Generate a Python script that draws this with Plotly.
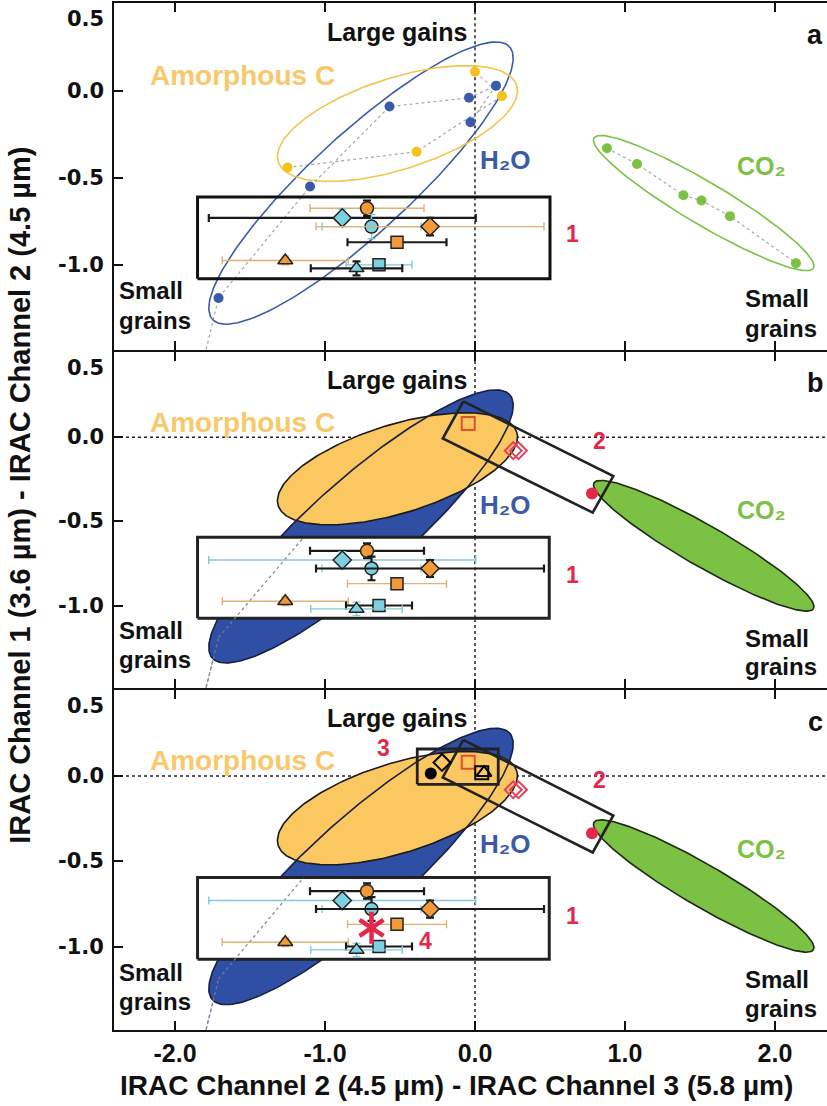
import numpy as np
import plotly.graph_objects as go

# ---------------- data ----------------
X_TICKS = [-2.0, -1.0, 0.0, 1.0, 2.0]
X_TICK_LABELS = ["-2.0", "-1.0", "0.0", "1.0", "2.0"]
Y_TICKS = [0.5, 0.0, -0.5, -1.0, -1.5]
Y_TICK_LABELS = ["0.5", "0.0", "-0.5", "-1.0", "-1.5"]
PANEL_NAMES = ["a", "b", "c"]

# model grain tracks (panel a)
H2O_X = [-1.83, -1.71, -1.10, -0.57, -0.04, 0.14, -0.03]
H2O_Y = [-1.62, -1.19, -0.55, -0.09, -0.04, 0.03, -0.18]
AMC_X = [-1.25, -0.39, 0.18, 0.00]
AMC_Y = [-0.44, -0.35, -0.03, 0.11]
CO2_X = [0.88, 1.08, 1.39, 1.51, 1.70, 2.14]
CO2_Y = [-0.33, -0.42, -0.60, -0.63, -0.72, -0.99]

# observed objects (box 1)
OBJ_SYMBOL = ["circle", "diamond", "circle", "diamond", "square",
              "triangle-up", "square", "triangle-up"]
OBJ_KIND = ["o", "c", "c", "o", "o", "o", "c", "c"]
OBJ_X = [-0.72, -0.885, -0.69, -0.30, -0.52, -1.265, -0.64, -0.79]
OBJ_Y = [-0.675, -0.73, -0.78, -0.78, -0.87, -0.975, -1.00, -1.02]
OBJ_XERR = [0.38, 0.89, 0.33, 0.76, 0.33, 0.42, 0.22, 0.305]
OBJ_YERR = [0.045, 0.05, 0.07, 0.05, 0.03, 0.025, 0.03, 0.04]
XERR_STYLE = {"a": ["t", "k", "c", "t", "k", "t", "c", "k"],
              "b": ["k", "c", "c", "k", "t", "t", "k", "c"],
              "c": ["k", "c", "c", "k", "t", "t", "k", "c"]}
YERR_STYLE = {"a": ["k", "c", "c", "k", "k", "t", "c", "k"],
              "b": ["k", "c", "k", "k", "k", "t", "k", "c"],
              "c": ["k", "c", "k", "k", "k", "t", "k", "c"]}

# boxes
BOX1 = {"a": (-1.85, 0.50, -1.08, -0.61),
        "b": (-1.85, 0.495, -1.075, -0.595),
        "c": (-1.85, 0.495, -1.075, -0.595)}
BOX2_X = [-0.078, 0.922, 0.785, -0.215]
BOX2_Y = [0.213, -0.231, -0.448, -0.008]
BOX3 = (-0.385, 0.155, -0.048, 0.159)

# red / black special points
RED_SQ_X, RED_SQ_Y = [-0.045], [0.082]
RED_DIA_X, RED_DIA_Y = [0.255, 0.29], [-0.08, -0.08]
RED_DOT_X, RED_DOT_Y = [0.78], [-0.335]
BLK_CIRC_X, BLK_CIRC_Y = [-0.295], [0.015]
BLK_DIA_X, BLK_DIA_Y = [-0.22], [0.08]
BLK_SQ_X, BLK_SQ_Y = [0.045], [0.02]
BLK_TRI_X, BLK_TRI_Y = [0.06], [0.02]
AST_X, AST_Y = [-0.69], [-0.89]

# regions (center x, center y, semi-major px, semi-minor px, angle deg)
H2O_REGION = (-0.76, -0.53, 200, 49, 42)
AMC_REGION = (-0.517, -0.188, 125, 45, 17.4)
CO2_REGION = (1.525, -0.645, 127, 21, -30.2)

# ---------------- styling ----------------
XR = [-2.407, 2.347]
YR = [-1.49, 0.505]
SX, SY = 150.0, 171.0
BLUE = "#3A5BA9"
BLUE_FILL = "#2E4FA4"
YEL_PT = "#F5C21B"
AMC_LINE = "#F2C54E"
AMC_FILL = "#FBC760"
AMC_TEXT = "#F7C96C"
GREEN = "#7BC143"
RED = "#E3284B"
ORANGE = "#F29A38"
CYAN = "#7DD0E0"
ERR = {"k": ("#1a1a1a", 2.2), "t": ("#DDB273", 1.4), "c": ("#86C7D6", 1.4)}
FONT = "Liberation Sans, Arial, sans-serif"

DOMAINS = [[0.662, 1.0], [0.333, 0.660], [0.0, 0.331]]


def ellipse(spec, n=241):
    cx, cy, a, b, ang = spec
    t = np.linspace(0, 2 * np.pi, n)
    th = np.radians(ang)
    X = a * np.cos(t) * np.cos(th) - b * np.sin(t) * np.sin(th)
    Y = a * np.cos(t) * np.sin(th) + b * np.sin(t) * np.cos(th)
    return list(cx + X / SX), list(cy + Y / SY)


def clip_track(xs, ys, lo, hi):
    ox, oy = [], []
    for i in range(len(xs) - 1):
        x0, y0, x1, y1 = xs[i], ys[i], xs[i + 1], ys[i + 1]
        if y1 != y0:
            ta, tb = (lo - y0) / (y1 - y0), (hi - y0) / (y1 - y0)
            t0, t1 = max(0, min(ta, tb)), min(1, max(ta, tb))
        else:
            if not (lo <= y0 <= hi):
                continue
            t0, t1 = 0, 1
        if t0 < t1:
            ox += [x0 + t0 * (x1 - x0), x0 + t1 * (x1 - x0), None]
            oy += [y0 + t0 * (y1 - y0), y0 + t1 * (y1 - y0), None]
    return ox, oy


fig = go.Figure()
annotations = []
shapes = []


def add(tr, xa, ya):
    tr.update(xaxis=xa, yaxis=ya, showlegend=False, hoverinfo="skip")
    fig.add_trace(tr)


def text(s, x, y, xa, ya, size, color, **kw):
    annotations.append(dict(text=s, x=x, y=y, xref=xa, yref=ya, showarrow=False,
                            font=dict(size=size, color=color, family=FONT, weight="bold"),
                            **kw))


for i, name in enumerate(PANEL_NAMES):
    xa = "x" if i == 0 else f"x{i+1}"
    ya = "y" if i == 0 else f"y{i+1}"
    bx0, bx1, by0, by1 = BOX1[name]

    # reference zero lines
    shapes.append(dict(type="line", xref=xa, yref=ya, x0=0, x1=0, y0=YR[0], y1=YR[1],
                       line=dict(color="#222", width=1.5, dash="dot"), layer="below"))
    if name != "a":
        shapes.append(dict(type="line", xref=xa, yref=ya, x0=XR[0], x1=XR[1], y0=0, y1=0,
                           line=dict(color="#222", width=1.5, dash="dot"), layer="below"))

    if name == "a":
        for reg, col in [(H2O_REGION, BLUE), (AMC_REGION, AMC_LINE), (CO2_REGION, GREEN)]:
            ex, ey = ellipse(reg)
            add(go.Scatter(x=ex, y=ey, mode="lines", line=dict(color=col, width=1.6)), xa, ya)
        for tx, ty in [(H2O_X, H2O_Y), (AMC_X, AMC_Y), (CO2_X, CO2_Y)]:
            add(go.Scatter(x=tx, y=ty, mode="lines",
                           line=dict(color="rgba(130,135,160,0.75)", width=1.2, dash="dot")), xa, ya)
        add(go.Scatter(x=H2O_X[1:], y=H2O_Y[1:], mode="markers",
                       marker=dict(size=10, color=BLUE)), xa, ya)
        add(go.Scatter(x=AMC_X, y=AMC_Y, mode="markers",
                       marker=dict(size=10, color=YEL_PT)), xa, ya)
        add(go.Scatter(x=CO2_X, y=CO2_Y, mode="markers",
                       marker=dict(size=10, color=GREEN)), xa, ya)
        add(go.Scatter(x=[bx0, bx1, bx1, bx0, bx0], y=[by0, by0, by1, by1, by0], mode="lines",
                       line=dict(color="#111", width=3)), xa, ya)
    else:
        add(go.Scatter(x=H2O_X, y=H2O_Y, mode="lines",
                       line=dict(color="rgba(120,125,150,0.85)", width=1.3, dash="dot")), xa, ya)
        ex, ey = ellipse(H2O_REGION)
        add(go.Scatter(x=ex, y=ey, mode="lines", fill="toself", fillcolor=BLUE_FILL,
                       line=dict(color=BLUE_FILL, width=0.5)), xa, ya)
        ax_, ay_ = ellipse(AMC_REGION)
        add(go.Scatter(x=ax_, y=ay_, mode="lines", fill="toself", fillcolor=AMC_FILL,
                       line=dict(color="#1b1b1b", width=1.6)), xa, ya)
        add(go.Scatter(x=ex, y=ey, mode="lines", line=dict(color="#1a2040", width=1.6)), xa, ya)
        gx, gy = ellipse(CO2_REGION)
        add(go.Scatter(x=gx, y=gy, mode="lines", fill="toself", fillcolor=GREEN,
                       line=dict(color="#1e2a12", width=1.6)), xa, ya)
        add(go.Scatter(x=[bx0, bx1, bx1, bx0, bx0], y=[by0, by0, by1, by1, by0], mode="lines",
                       fill="toself", fillcolor="white",
                       line=dict(color="#222", width=3)), xa, ya)
        add(go.Scatter(x=[0, 0], y=[by0, by1], mode="lines",
                       line=dict(color="#222", width=1.5, dash="dot")), xa, ya)
        cx_, cy_ = clip_track(H2O_X, H2O_Y, YR[0], by1)
        add(go.Scatter(x=cx_, y=cy_, mode="lines",
                       line=dict(color="rgba(120,125,150,0.9)", width=1.3, dash="dot")), xa, ya)

    # observed objects with error bars
    for k in range(len(OBJ_X)):
        ecol, ew = ERR[XERR_STYLE[name][k]]
        ycol, yw = ERR[YERR_STYLE[name][k]]
        fill = ORANGE if OBJ_KIND[k] == "o" else CYAN
        size = {"circle": 13, "diamond": 14, "square": 12, "triangle-up": 13}[OBJ_SYMBOL[k]]
        add(go.Scatter(x=[OBJ_X[k]], y=[OBJ_Y[k]], mode="markers",
                       marker=dict(symbol=OBJ_SYMBOL[k], size=size, color=fill,
                                   line=dict(color="#222", width=1.5)),
                       error_x=dict(type="data", array=[OBJ_XERR[k]], color=ecol,
                                    thickness=ew, width=4),
                       error_y=dict(type="data", array=[OBJ_YERR[k]], color=ycol,
                                    thickness=yw, width=4)), xa, ya)

    if name != "a":
        add(go.Scatter(x=BOX2_X + BOX2_X[:1], y=BOX2_Y + BOX2_Y[:1], mode="lines",
                       line=dict(color="#222", width=2.6)), xa, ya)
        add(go.Scatter(x=RED_SQ_X, y=RED_SQ_Y, mode="markers",
                       marker=dict(symbol="square-open", size=13, color="#E2502E",
                                   line=dict(width=2))), xa, ya)
        add(go.Scatter(x=RED_DIA_X, y=RED_DIA_Y, mode="markers",
                       marker=dict(symbol="diamond-open", size=13, color="#E2405C",
                                   line=dict(width=2))), xa, ya)
        add(go.Scatter(x=RED_DOT_X, y=RED_DOT_Y, mode="markers",
                       marker=dict(symbol="circle", size=12, color=RED)), xa, ya)
    if name == "c":
        b3x0, b3x1, b3y0, b3y1 = BOX3
        add(go.Scatter(x=[b3x0, b3x1, b3x1, b3x0, b3x0], y=[b3y0, b3y0, b3y1, b3y1, b3y0],
                       mode="lines", line=dict(color="#222", width=2.8)), xa, ya)
        add(go.Scatter(x=BLK_CIRC_X, y=BLK_CIRC_Y, mode="markers",
                       marker=dict(symbol="circle", size=12, color="black")), xa, ya)
        add(go.Scatter(x=BLK_DIA_X, y=BLK_DIA_Y, mode="markers",
                       marker=dict(symbol="diamond-open", size=13, color="black",
                                   line=dict(width=2))), xa, ya)
        add(go.Scatter(x=BLK_SQ_X, y=BLK_SQ_Y, mode="markers",
                       marker=dict(symbol="square-open", size=13, color="black",
                                   line=dict(width=2))), xa, ya)
        add(go.Scatter(x=BLK_TRI_X, y=BLK_TRI_Y, mode="markers",
                       marker=dict(symbol="triangle-up-open", size=13, color="black",
                                   line=dict(width=2))), xa, ya)
        for sym in ["y-up-open", "y-down-open"]:
            add(go.Scatter(x=AST_X, y=AST_Y, mode="markers",
                           marker=dict(symbol=sym, size=20, color=RED,
                                       line=dict(color=RED, width=4.5))), xa, ya)

    # texts
    text("Large gains", -0.52, 0.34, xa, ya, 25, "#111")
    text("Amorphous C", -1.55, 0.09, xa, ya, 28, AMC_TEXT)
    text("H\u2082O", 0.20, -0.40, xa, ya, 26, BLUE)
    text("CO\u2082", 1.91, -0.43, xa, ya, 25, GREEN)
    for line_txt, dy in [("Small", 0.0), ("grains", -0.17)]:
        text(line_txt, -2.385, -1.15 + dy, xa, ya, 24, "#111", xanchor="left")
        text(line_txt, 1.785, -1.195 + dy, xa, ya, 24, "#111", xanchor="left")
    text(name, 2.27, 0.32, xa, ya, 27, "#111")
    text("1", 0.65, -0.82, xa, ya, 23, RED)
    if name != "a":
        text("2", 0.83, -0.02, xa, ya, 23, RED)
    if name == "c":
        text("3", -0.61, 0.165, xa, ya, 23, RED)
        text("4", -0.33, -0.97, xa, ya, 23, RED)

    # y tick labels
    for v, lab in zip(Y_TICKS, Y_TICK_LABELS):
        ys = -15 if v == max(Y_TICKS) else (10 if v == min(Y_TICKS) else 0)
        annotations.append(dict(text=lab, x=0, y=v, xref="paper", yref=ya, xanchor="right",
                                xshift=-8, yshift=ys, showarrow=False,
                                font=dict(size=21, color="#111", family="DejaVu Sans",
                                          weight="bold")))

# axis titles
annotations.append(dict(text="IRAC Channel 2 (4.5 µm) - IRAC Channel 3 (5.8 µm)",
                        x=0.48, y=-0.0536, xref="paper", yref="paper", showarrow=False,
                        yanchor="middle",
                        font=dict(size=28, color="#111", family=FONT, weight="bold")))
annotations.append(dict(text="IRAC Channel 1 (3.6 µm) - IRAC Channel 2 (4.5 µm)",
                        x=-0.132, y=0.521, xref="paper", yref="paper", showarrow=False,
                        textangle=-90, xanchor="center", yanchor="middle",
                        font=dict(size=29, color="#111", family=FONT, weight="bold")))

layout = dict(width=827, height=1106, margin=dict(l=114, r=0, t=3, b=76),
              paper_bgcolor="white", plot_bgcolor="white",
              annotations=annotations, shapes=shapes, showlegend=False,
              font=dict(family=FONT, color="#111"))
for i in range(3):
    xk = "xaxis" if i == 0 else f"xaxis{i+1}"
    yk = "yaxis" if i == 0 else f"yaxis{i+1}"
    layout[xk] = dict(domain=[0, 1], range=XR, anchor="y" if i == 0 else f"y{i+1}",
                      tickvals=X_TICKS, ticktext=X_TICK_LABELS, ticks="inside", ticklen=9,
                      tickwidth=2, tickcolor="#111", showline=True, linewidth=2,
                      linecolor="#111", mirror="ticks", showgrid=False, zeroline=False,
                      showticklabels=(i == 2),
                      tickfont=dict(size=25, family=FONT, color="#111", weight="bold"))
    layout[yk] = dict(domain=DOMAINS[i], range=YR, anchor="x" if i == 0 else f"x{i+1}",
                      tickvals=Y_TICKS, ticks="inside", ticklen=9, tickwidth=2,
                      tickcolor="#111", showline=True, linewidth=2, linecolor="#111",
                      showgrid=False, zeroline=False, showticklabels=False)
fig.update_layout(**layout)
fig.write_html("out.html")
